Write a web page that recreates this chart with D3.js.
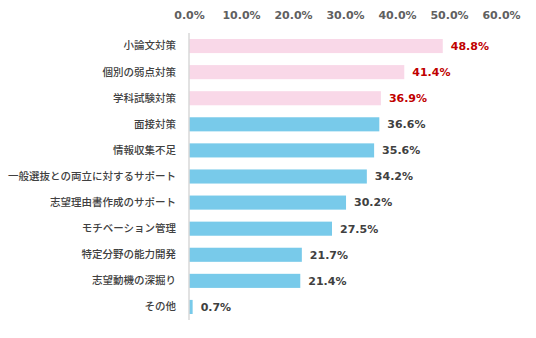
<!DOCTYPE html>
<html>
<head>
<meta charset="utf-8">
<script src="https://cdn.jsdelivr.net/npm/d3@7"></script>
<style>
  body { margin: 0; background: #fff; }
  svg { display: block; }
</style>
</head>
<body>
<div class="container"></div>
<script>
const categories = [
  "小論文対策", "個別の弱点対策", "学科試験対策", "面接対策", "情報収集不足",
  "一般選抜との両立に対するサポート", "志望理由書作成のサポート", "モチベーション管理",
  "特定分野の能力開発", "志望動機の深掘り", "その他"
];
const values = [48.8, 41.4, 36.9, 36.6, 35.6, 34.2, 30.2, 27.5, 21.7, 21.4, 0.7];
// first three items are highlighted
const highlighted = [true, true, true, false, false, false, false, false, false, false, false];
const ticks = [0, 10, 20, 30, 40, 50, 60];

const w = 536;
const h = 338;
const plotLeft = 189;
const plotRight = 501;
const plotTop = 33;
const plotBottom = 320;

const svg = d3.select(".container")
              .append("svg")
              .attr("width", w)
              .attr("height", h);

const xScale = d3.scaleLinear()
                 .domain([0, 60])
                 .range([plotLeft, plotRight]);

const yScale = d3.scaleBand()
                 .domain(categories)
                 .range([plotTop, plotBottom])
                 .paddingInner(0.46)
                 .paddingOuter(0.23);

const numFont = "'DejaVu Sans', Verdana, sans-serif";
const jpFont = "'Noto Sans CJK JP', sans-serif";

// top axis tick labels, no line
const xAxis = d3.axisTop(xScale)
                .tickValues(ticks)
                .tickFormat(d => d.toFixed(1) + "%")
                .tickSize(0)
                .tickPadding(0);
const gx = svg.append("g")
              .attr("id", "x-axis")
              .attr("transform", "translate(0,19)")
              .call(xAxis);
gx.select(".domain").remove();
gx.selectAll("text")
  .attr("font-family", numFont)
  .attr("font-size", "11px")
  .attr("font-weight", "bold")
  .attr("fill", "#606060");

// bars
svg.selectAll("rect.bar")
   .data(values)
   .enter()
   .append("rect")
   .attr("class", "bar")
   .attr("x", xScale(0))
   .attr("y", (d, i) => yScale(categories[i]))
   .attr("width", d => xScale(d) - xScale(0))
   .attr("height", yScale.bandwidth())
   .attr("fill", (d, i) => highlighted[i] ? "#f9d8e8" : "#78caea");

// category axis on the left
const yAxis = d3.axisLeft(yScale)
                .tickSize(0)
                .tickPadding(13);
const gy = svg.append("g")
              .attr("id", "y-axis")
              .attr("transform", "translate(" + plotLeft + ",0)")
              .call(yAxis);
gy.select(".domain")
  .attr("d", "M0," + plotTop + "V" + plotBottom)
  .attr("stroke", "#d9d9d9")
  .attr("stroke-width", 1.5);
gy.selectAll("text")
  .attr("font-family", jpFont)
  .attr("font-size", "10.5px")
  .attr("font-weight", 500)
  .attr("fill", "#404040");

// value labels
svg.selectAll("text.val")
   .data(values)
   .enter()
   .append("text")
   .attr("class", "val")
   .attr("x", d => xScale(d) + 8)
   .attr("y", (d, i) => yScale(categories[i]) + yScale.bandwidth() / 2)
   .attr("dy", "0.35em")
   .attr("font-family", numFont)
   .attr("font-size", "11px")
   .attr("font-weight", "bold")
   .attr("fill", (d, i) => highlighted[i] ? "#c00000" : "#404040")
   .text(d => d.toFixed(1) + "%");
</script>
</body>
</html>
